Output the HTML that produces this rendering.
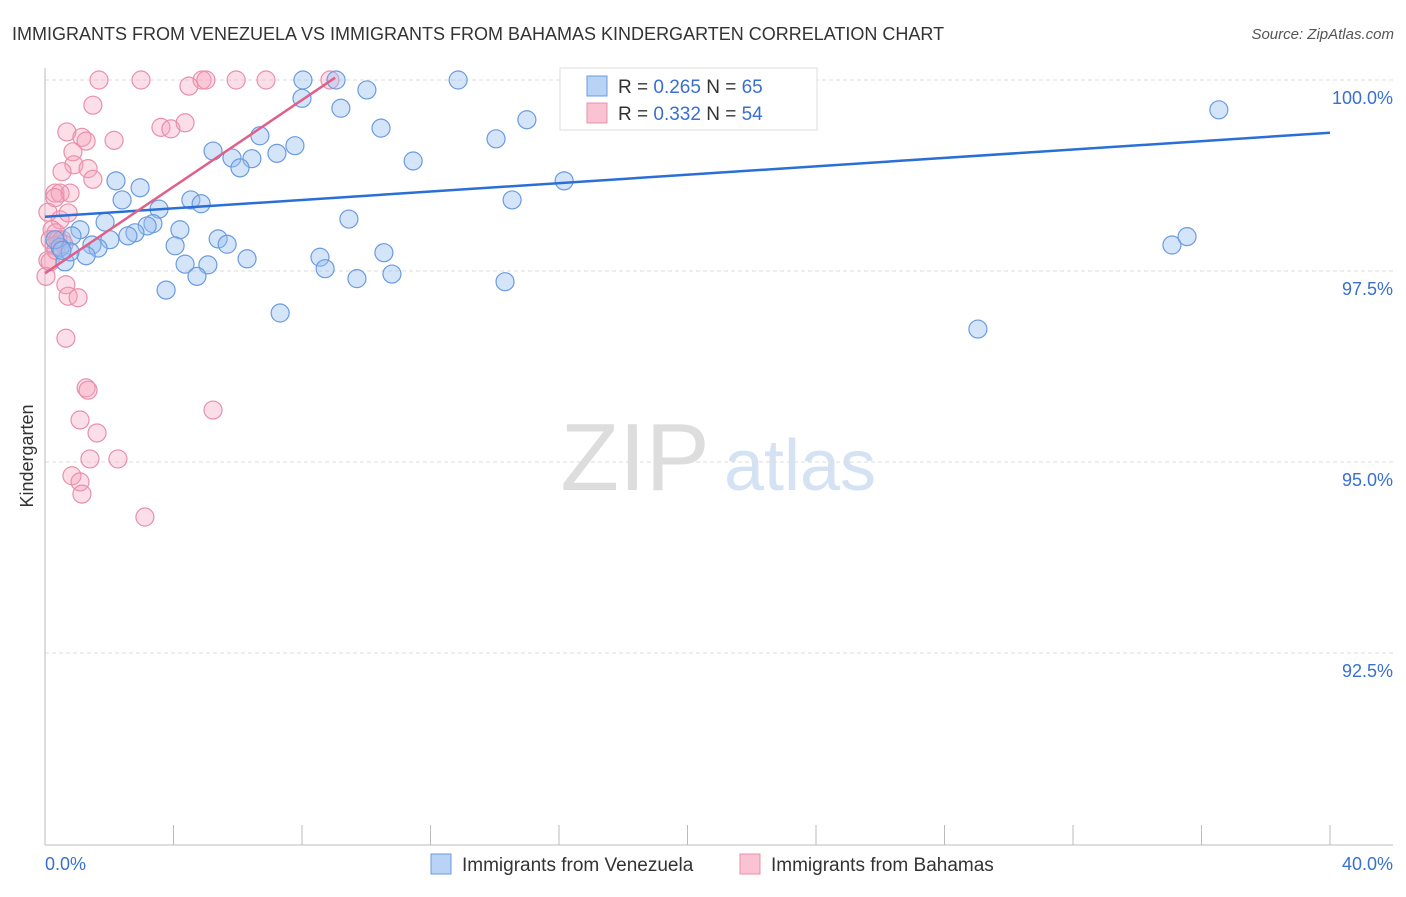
<!DOCTYPE html>
<html><head><meta charset="utf-8"><style>
body{margin:0;background:#fff;font-family:"Liberation Sans",sans-serif;}
svg text{font-family:"Liberation Sans",sans-serif;}
</style></head><body>
<svg id="c" width="1406" height="892">
<text x="12" y="40" font-size="18" fill="#333">IMMIGRANTS FROM VENEZUELA VS IMMIGRANTS FROM BAHAMAS KINDERGARTEN CORRELATION CHART</text>
<text x="1394" y="39" font-size="15" fill="#555" font-style="italic" text-anchor="end">Source: ZipAtlas.com</text>
<text transform="translate(33,456) rotate(-90)" font-size="18" fill="#333" text-anchor="middle">Kindergarten</text>
<g><text x="635" y="490" font-size="96" fill="#ddd" text-anchor="middle" font-family="Liberation Serif">ZIP</text><text x="800" y="490" font-size="72" fill="#d4e2f4" text-anchor="middle">atlas</text></g>
<g id="grid"></g><g id="pts"></g><g id="lines"></g>
<g>
<rect x="560" y="68" width="257" height="62" fill="#fff" stroke="#ddd"/>
<rect x="587" y="76" width="20" height="20" fill="#b8d3f5" stroke="#6a9be0"/>
<rect x="587" y="103" width="20" height="20" fill="#f9c3d3" stroke="#e890aa"/>
<text x="618" y="93" font-size="19" fill="#333">R = <tspan fill="#3a6fd0">0.265</tspan>   N = <tspan fill="#3a6fd0">65</tspan></text>
<text x="618" y="120" font-size="19" fill="#333">R = <tspan fill="#3a6fd0">0.332</tspan>   N = <tspan fill="#3a6fd0">54</tspan></text>
</g>
<g>
<rect x="431" y="854" width="20" height="20" fill="#b8d3f5" stroke="#6a9be0"/>
<text x="462" y="871" font-size="19" fill="#333">Immigrants from Venezuela</text>
<rect x="740" y="854" width="20" height="20" fill="#f9c3d3" stroke="#e890aa"/>
<text x="771" y="871" font-size="19" fill="#333">Immigrants from Bahamas</text>
</g>
</svg>
<script>
const xTicks=[0,4,8,12,16,20,24,28,32,36,40];
const yTicks=[100,97.5,95,92.5];
const yTickLabels=["100.0%","97.5%","95.0%","92.5%"];
const blueX=[8.03,9.06,12.86,17.25,22.2,21.88,8.0,10.02,9.21,36.54,10.46,15.0,14.04,6.69,7.78,5.23,7.22,5.82,6.44,6.07,11.46,16.16,2.21,2.96,2.4,4.54,4.86,14.54,3.55,9.46,1.87,3.36,3.18,1.09,4.2,2.8,2.58,0.84,5.39,5.67,2.02,1.46,1.65,4.05,1.28,0.62,6.29,8.56,10.55,4.36,5.07,8.72,4.73,10.8,9.71,14.32,3.77,7.32,29.04,35.08,35.55,0.47,0.31,0.78,0.53];
const blueY=[100,100,100,99.96,100,100,99.76,99.87,99.63,99.61,99.37,99.48,99.23,99.27,99.14,99.07,99.04,98.98,98.97,98.85,98.94,98.68,98.68,98.59,98.43,98.43,98.38,98.43,98.31,98.18,98.14,98.12,98.09,98.04,98.04,98.0,97.96,97.96,97.92,97.85,97.91,97.84,97.8,97.83,97.7,97.62,97.66,97.68,97.74,97.59,97.58,97.53,97.43,97.46,97.4,97.36,97.25,96.95,96.74,97.84,97.95,97.81,97.91,97.75,97.77];
const pinkX=[1.68,2.99,4.89,5.01,5.95,6.88,8.87,4.48,1.49,3.61,3.92,4.36,0.68,1.15,1.28,2.15,0.87,0.9,1.34,0.53,1.49,0.31,0.47,0.78,0.31,0.09,0.47,0.72,0.22,0.34,0.16,0.4,0.53,0.28,0.09,0.03,0.65,0.72,1.03,0.65,1.28,1.34,5.23,1.09,1.62,1.4,2.27,0.84,1.09,1.15,3.11,0.16,0.34,0.59];
const pinkY=[100,100,100,100,100,100,100,99.92,99.67,99.38,99.36,99.44,99.32,99.25,99.2,99.21,99.06,98.89,98.84,98.8,98.7,98.52,98.52,98.52,98.46,98.27,98.17,98.26,98.04,98.0,97.91,97.91,97.91,97.83,97.64,97.43,97.32,97.17,97.15,96.62,95.97,95.94,95.68,95.55,95.38,95.04,95.04,94.82,94.74,94.58,94.28,97.62,97.77,97.85];
const blueTrend=[[0,98.21],[40,99.31]];
const pinkTrend=[[0,97.47],[9.03,100.03]];
const NS="http://www.w3.org/2000/svg";
const X=v=>45+v*32.125, Y=v=>80+(100-v)*76.4;
function mk(t,a,p){const e=document.createElementNS(NS,t);for(const k in a)e.setAttribute(k,a[k]);p.appendChild(e);return e;}
const g=document.getElementById('grid');
yTicks.forEach((t,i)=>{const l=mk('line',{x1:45,x2:1393,y1:Y(t),y2:Y(t),stroke:'#ddd','stroke-dasharray':'4 3'},g);


const tx=mk('text',{x:1393,y:Y(t)+24,'font-size':18,fill:'#3a6fd0','text-anchor':'end'},g);tx.textContent=yTickLabels[i];

});
const ax=mk('line',{x1:45,x2:45,y1:68,y2:845,stroke:'#bbb'},g);


const bx=mk('line',{x1:45,x2:1393,y1:845,y2:845,stroke:'#bbb'},g);


xTicks.forEach(t=>{const l=mk('line',{x1:X(t),x2:X(t),y1:825,y2:845,stroke:'#bbb'},g);

});
[[0,'0.0%','start',45],[40,'40.0%','end',1393]].forEach(d=>{const tx=mk('text',{x:d[3],y:870,'font-size':18,fill:'#3a6fd0','text-anchor':d[2]},g);tx.textContent=d[1];

});
const p=document.getElementById('pts');
pinkX.forEach((v,i)=>{const c=mk('circle',{cx:X(v),cy:Y(pinkY[i]),r:9,fill:'rgba(245,160,190,0.35)',stroke:'#e890aa','stroke-width':1.2},p);

});
blueX.forEach((v,i)=>{const c=mk('circle',{cx:X(v),cy:Y(blueY[i]),r:9,fill:'rgba(150,190,240,0.4)',stroke:'#6a9be0','stroke-width':1.2},p);

});
const L=document.getElementById('lines');
const b=mk('line',{x1:X(blueTrend[0][0]),y1:Y(blueTrend[0][1]),x2:X(blueTrend[1][0]),y2:Y(blueTrend[1][1]),stroke:'#2a6fd6','stroke-width':2.5},L);


const q=mk('line',{x1:X(pinkTrend[0][0]),y1:Y(pinkTrend[0][1]),x2:X(pinkTrend[1][0]),y2:Y(pinkTrend[1][1]),stroke:'#e0608a','stroke-width':2.5},L);


</script>
</body></html>
